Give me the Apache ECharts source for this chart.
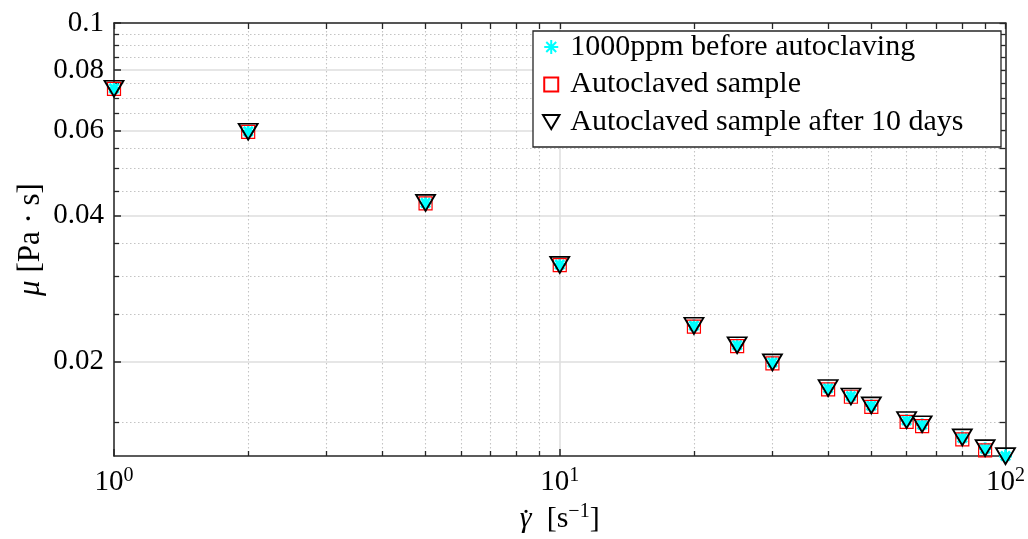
<!DOCTYPE html>
<html>
<head>
<meta charset="utf-8">
<script src="https://cdn.jsdelivr.net/npm/echarts@6/dist/echarts.min.js"></script>
<style>html,body{margin:0;padding:0;background:#fff}#c{width:1028px;height:539px}</style>
</head>
<body>
<div id="c"></div>
<script>
// ---- data ----
const shearRate = [1, 2, 5, 10, 20, 25, 30, 40, 45, 50, 60, 65, 80, 90, 100];
const viscBefore = [0.0733, 0.0597, 0.0425, 0.0317, 0.0237, 0.0216, 0.0199, 0.0176, 0.01695, 0.0162, 0.0151, 0.0148, 0.0139, 0.0132, 0.01275];
const viscAutoclaved = [0.0731, 0.0596, 0.0424, 0.0316, 0.0236, 0.0215, 0.0198, 0.0175, 0.0169, 0.0161, 0.0150, 0.0147, 0.0138, 0.0131, 0.0127];
const viscAfter10 = [0.0735, 0.0599, 0.0427, 0.0318, 0.0238, 0.0217, 0.0200, 0.0177, 0.0170, 0.0163, 0.0152, 0.0149, 0.0140, 0.0133, 0.0128];
const seriesNames = ['1000ppm before autoclaving', 'Autoclaved sample', 'Autoclaved sample after 10 days'];

// ---- ticks ----
const xMajorTicks = [1, 10, 100];
const xMajorExp = ['0', '1', '2'];
const xMinorTicks = [2, 3, 4, 5, 6, 7, 8, 9, 20, 30, 40, 50, 60, 70, 80, 90];
const yMajorTicks = [0.02, 0.04, 0.06, 0.08, 0.1];
const yMajorLabels = ['0.02', '0.04', '0.06', '0.08', '0.1'];
const yMinorTicks = [0.015, 0.025, 0.03, 0.035, 0.045, 0.05, 0.055, 0.065, 0.07, 0.075, 0.085, 0.09, 0.095];
const xRange = [1, 100];
const yRange = [0.01275, 0.1];

const FONT = 'Liberation Serif';
const AXC = '#262626';

const pair = (xs, ys) => xs.map((x, i) => [x, ys[i]]);
const labelFor = (vals, labs, v) => {
  let best = 0;
  vals.forEach((t, i) => { if (Math.abs(t - v) < Math.abs(vals[best] - v)) best = i; });
  return labs[best];
};

const starPath = 'path://M0,-10L0,10M-10,0L10,0M-7.07,-7.07L7.07,7.07M-7.07,7.07L7.07,-7.07';
const squarePath = 'path://M0,0L10,0L10,10L0,10Z';
const triDownPath = 'path://M0,0L20,0L10,17Z';

const chart = echarts.init(document.getElementById('c'), null, {renderer: 'canvas'});
const baseLog = {type: 'log', logBase: 10, gridIndex: 0};
const minorGrid = {color: '#c4c4c4', width: 1.1, type: [1.5, 2.5]};

chart.setOption({
  animation: false,
  backgroundColor: '#fff',
  grid: {left: 114, right: 21, top: 23, bottom: 81, containLabel: false},
  xAxis: [
    Object.assign({}, baseLog, {
      min: xRange[0], max: xRange[1], position: 'bottom',
      axisLine: {show: true, onZero: false, lineStyle: {color: AXC, width: 1.5}},
      axisTick: {show: true, inside: true, length: 7, customValues: xMajorTicks, lineStyle: {color: AXC, width: 1.5}},
      axisLabel: {
        show: true, customValues: xMajorTicks, margin: 10,
        formatter: v => '{b|10}{s|' + labelFor(xMajorTicks, xMajorExp, v) + '}',
        rich: {
          b: {fontFamily: FONT, fontSize: 29, color: '#000', lineHeight: 32},
          s: {fontFamily: FONT, fontSize: 20, color: '#000', verticalAlign: 'top', lineHeight: 20}
        }
      },
      splitLine: {show: true, lineStyle: {color: '#dedede', width: 1.5, type: 'solid'}},
      name: '{i|γ}{n|  [s}{sup|−1}{n|]}',
      nameLocation: 'middle', nameGap: 46,
      nameTextStyle: {
        rich: {
          i: {fontFamily: FONT, fontStyle: 'italic', fontSize: 30, color: '#000', lineHeight: 34},
          n: {fontFamily: FONT, fontSize: 30, color: '#000', lineHeight: 34},
          sup: {fontFamily: FONT, fontSize: 20, color: '#000', verticalAlign: 'top', lineHeight: 20}
        }
      }
    }),
    Object.assign({}, baseLog, {
      min: xRange[0], max: xRange[1], position: 'bottom',
      axisLine: {show: false, onZero: false},
      axisTick: {show: true, inside: true, length: 5, customValues: xMinorTicks, lineStyle: {color: AXC, width: 1.3}},
      axisLabel: {show: false},
      splitLine: {show: true, lineStyle: minorGrid}
    }),
    Object.assign({}, baseLog, {
      min: xRange[0], max: xRange[1], position: 'top',
      axisLine: {show: true, onZero: false, lineStyle: {color: AXC, width: 1.5}},
      axisTick: {show: true, inside: true, length: 6, customValues: xMajorTicks.concat(xMinorTicks), lineStyle: {color: AXC, width: 1.3}},
      axisLabel: {show: false},
      splitLine: {show: false}
    })
  ],
  yAxis: [
    Object.assign({}, baseLog, {
      min: yRange[0], max: yRange[1], position: 'left',
      axisLine: {show: true, onZero: false, lineStyle: {color: AXC, width: 1.5}},
      axisTick: {show: true, inside: true, length: 7, customValues: yMajorTicks, lineStyle: {color: AXC, width: 1.5}},
      axisLabel: {
        show: true, customValues: yMajorTicks, margin: 10,
        fontFamily: FONT, fontSize: 29, color: '#000',
        formatter: v => labelFor(yMajorTicks, yMajorLabels, v)
      },
      splitLine: {show: true, lineStyle: {color: '#dedede', width: 1.5, type: 'solid'}},
      name: '{i|μ}{n| [Pa · s]}',
      nameLocation: 'middle', nameGap: 68, nameRotate: 90, nameMoveOverlap: false,
      nameTextStyle: {
        rich: {
          i: {fontFamily: FONT, fontStyle: 'italic', fontSize: 31, color: '#000'},
          n: {fontFamily: FONT, fontSize: 31, color: '#000'}
        }
      }
    }),
    Object.assign({}, baseLog, {
      min: yRange[0], max: yRange[1], position: 'left',
      axisLine: {show: false, onZero: false},
      axisTick: {show: true, inside: true, length: 5, customValues: yMinorTicks, lineStyle: {color: AXC, width: 1.3}},
      axisLabel: {show: false},
      splitLine: {show: true, lineStyle: minorGrid}
    }),
    Object.assign({}, baseLog, {
      min: yRange[0], max: yRange[1], position: 'right',
      axisLine: {show: true, onZero: false, lineStyle: {color: AXC, width: 1.5}},
      axisTick: {show: true, inside: true, length: 6, customValues: yMajorTicks.concat(yMinorTicks), lineStyle: {color: AXC, width: 1.3}},
      axisLabel: {show: false},
      splitLine: {show: false}
    })
  ],
  legend: {
    orient: 'vertical', left: 542, top: 32, padding: 0,
    itemGap: 7.5, itemWidth: 22, itemHeight: 14,
    data: seriesNames,
    textStyle: {fontFamily: FONT, fontSize: 30, color: '#000', lineHeight: 30, padding: [0, 0, 0, 3]}
  },
  graphic: [
    {
      type: 'rect', z: 3,
      shape: {x: 533, y: 31, width: 468, height: 116},
      style: {fill: '#fff', stroke: AXC, lineWidth: 1.3}
    },
    {
      type: 'text', z: 5,
      x: 526, y: 522,
      style: {text: '˙', fontFamily: FONT, fontSize: 30, fill: '#000', align: 'center', verticalAlign: 'middle'}
    }
  ],
  series: [
    {
      name: seriesNames[0], type: 'scatter', xAxisIndex: 0, yAxisIndex: 0,
      data: pair(shearRate, viscBefore),
      symbol: starPath, symbolSize: 13, symbolKeepAspect: true,
      itemStyle: {color: 'rgba(0,0,0,0)', borderColor: '#00ffff', borderWidth: 2.8, opacity: 1}
    },
    {
      name: seriesNames[1], type: 'scatter', xAxisIndex: 0, yAxisIndex: 0,
      data: pair(shearRate, viscAutoclaved),
      symbol: squarePath, symbolSize: 13, symbolKeepAspect: true,
      itemStyle: {color: 'rgba(0,0,0,0)', borderColor: '#ff0000', borderWidth: 1.2, opacity: 1}
    },
    {
      name: seriesNames[2], type: 'scatter', xAxisIndex: 0, yAxisIndex: 0,
      data: pair(shearRate, viscAfter10),
      symbol: triDownPath, symbolSize: [19, 16], symbolKeepAspect: false, symbolOffset: [0, 1],
      itemStyle: {color: 'rgba(0,0,0,0)', borderColor: '#000000', borderWidth: 1.8, opacity: 1}
    }
  ]
});
</script>
</body>
</html>
